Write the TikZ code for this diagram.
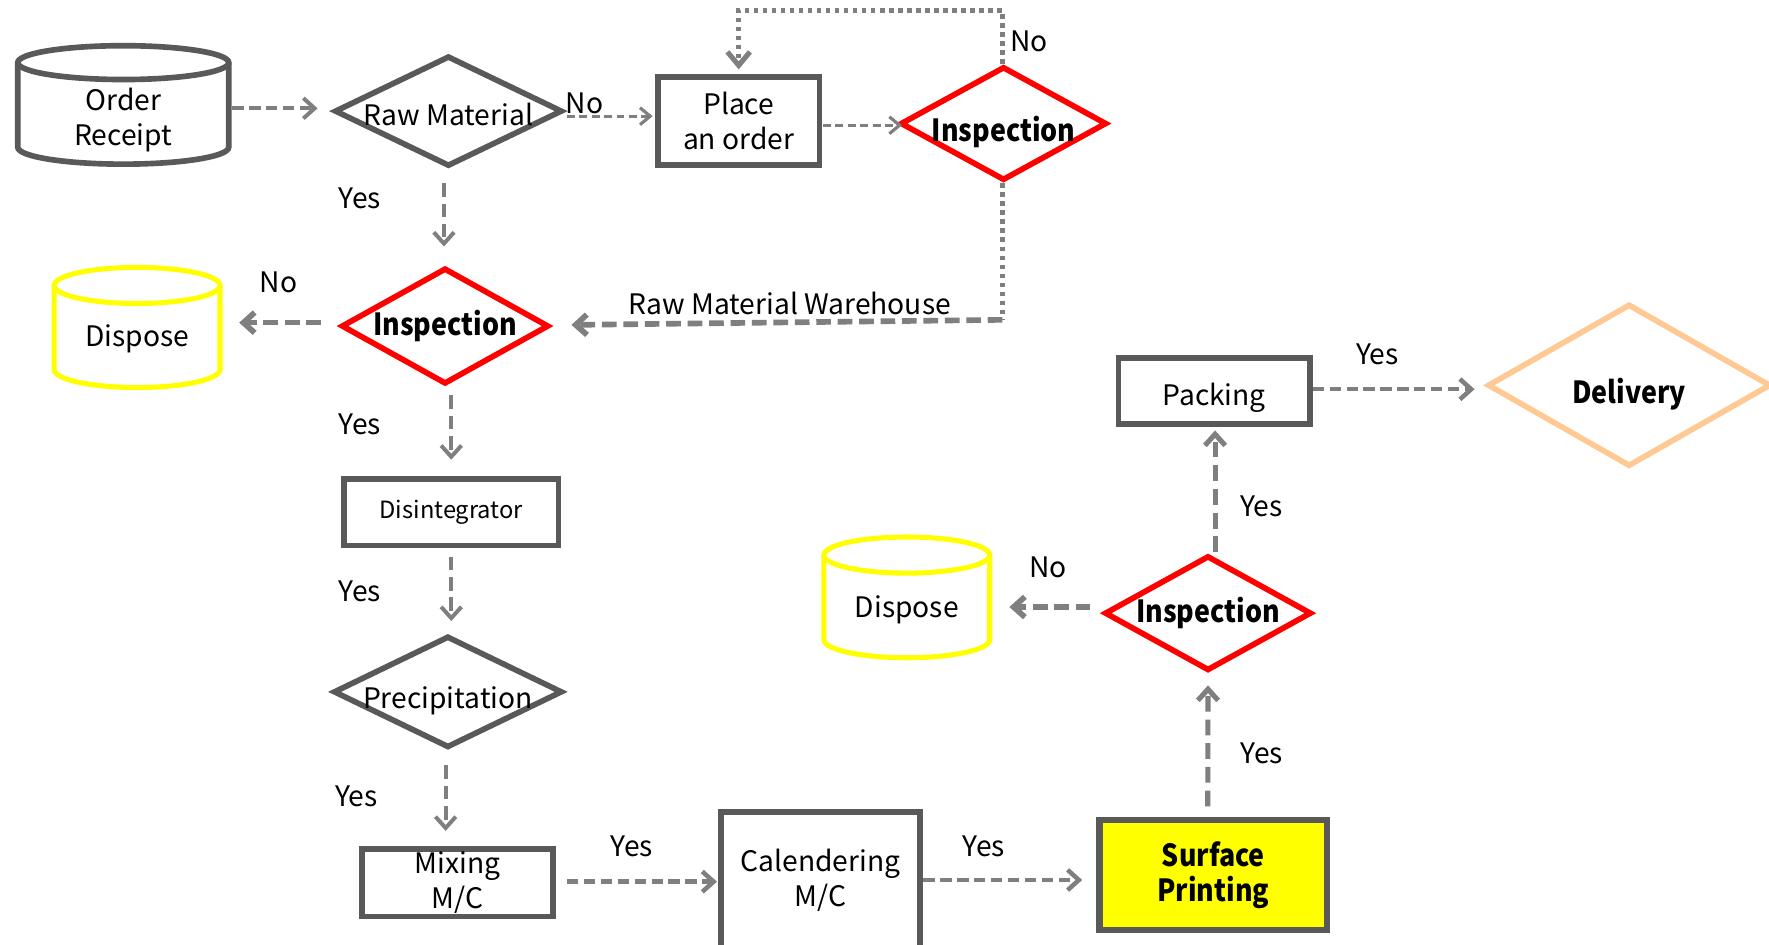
\documentclass[tikz,border=0pt]{standalone}
\usepackage{fontspec}
\setmainfont{Noto Sans CJK KR}
\newfontfamily\bfam{Noto Sans CJK KR}[FakeStretch=0.88]
\usetikzlibrary{arrows.meta,shapes.geometric}
\definecolor{boxgray}{HTML}{595959}
\definecolor{arrgray}{HTML}{7F7F7F}
\definecolor{peach}{HTML}{FFC994}
\definecolor{yel}{HTML}{FFFF00}
\definecolor{redc}{HTML}{FF0000}
\newcommand\nfont{\fontsize{25pt}{31pt}\selectfont}
\newcommand\bfont{\bfam\fontsize{27pt}{31pt}\selectfont\bfseries}
\newcommand\dfont{\fontsize{21pt}{25pt}\selectfont}
% #1 style, #2 cx, #3 top, #4 bottom, #5 half width, #6 ry
\newcommand\drumshape[6]{%
  \draw[#1] ({#2-#5},{#3+#6}) -- ({#2-#5},{#4-#6})
     arc[start angle=180,end angle=0,x radius=#5,y radius=#6] -- ({#2+#5},{#3+#6});
  \draw[#1] (#2,{#3+#6}) ellipse[x radius=#5, y radius=#6];
}
\tikzset{
  box/.style={draw=boxgray, line width=5pt, rectangle, inner sep=0pt, align=center, font=\nfont},
  dia/.style={diamond, line width=5pt, inner sep=0pt, aspect=2, align=center},
  txt/.style={inner sep=0pt, align=center, font=\nfont},
  lbl/.style={inner sep=0pt, font=\nfont},
  arr/.style={draw=arrgray, line width=3.5pt, dash pattern=on 10pt off 5pt,
              -{Straight Barb[length=10pt,width=18pt]}},
  thinarr/.style={arr, line width=2.8pt, dash pattern=on 7pt off 4pt,
              -{Straight Barb[length=9pt,width=15pt]}},
  varr/.style={arr, dash pattern=on 12pt off 6pt},
  fatarr/.style={arr, line width=5pt, dash pattern=on 13pt off 6pt},
  midarr/.style={arr, line width=4pt, dash pattern=on 10pt off 5pt},
  uparr/.style={arr, line width=4.5pt, dash pattern=on 14pt off 7pt},
  dotline/.style={draw=arrgray, line width=4.5pt, dash pattern=on 4pt off 4pt},
}
\begin{document}
\begin{tikzpicture}[x=1pt,y=-1pt]
\useasboundingbox (0,0) rectangle (1568,836.8);
\clip (0,0) rectangle (1568,836.8);
\fill[white] (0,0) rectangle (1568,836.8);

% cylinders
\drumshape{draw=boxgray,line width=5pt,fill=white}{109.25}{40.5}{145.5}{93.5}{15}
\drumshape{draw=yel,line width=4.5pt,fill=white}{121.5}{237}{343.5}{73.5}{16}
\drumshape{draw=yel,line width=4.5pt,fill=white}{803.75}{476}{583}{73.5}{16}
\node[txt, minimum width=191pt] (or) at (109.25,106) {Order\\Receipt};
\node[txt, minimum width=151pt] (d1) at (121.5,300) {Dispose};
\node[txt, minimum width=150.5pt] (d2) at (803.75,540.5) {Dispose};

% diamonds
\node[dia, draw=boxgray, minimum width=202pt, minimum height=98pt, font=\nfont,
      text height=25pt, text depth=0pt] (raw) at (397.5,98.5) {\makebox[0pt]{Raw Material}};
\node[dia, draw=redc, minimum width=183pt, minimum height=101pt, font=\bfont,
      text height=31pt, text depth=0pt] (ins1) at (889.5,109.5) {\makebox[0pt]{Inspection}};
\node[dia, draw=redc, minimum width=184pt, minimum height=103pt, font=\bfont] (ins2) at (394.5,289) {\makebox[0pt]{Inspection}};
\node[dia, draw=boxgray, minimum width=203pt, minimum height=99pt, font=\nfont,
      text height=29.5pt, text depth=0pt] (prec) at (397,613.25) {\makebox[0pt]{Precipitation}};
\node[dia, draw=redc, minimum width=183.5pt, minimum height=102pt, font=\bfont] (ins3) at (1070.75,543.5) {\makebox[0pt]{Inspection}};
\node[dia, draw=peach, minimum width=251pt, minimum height=144pt, font=\bfont,
      text height=32pt, text depth=0pt] (del) at (1444,341.5) {\makebox[0pt]{Delivery}};

% boxes
\node[box, minimum width=143.5pt, minimum height=77.5pt] (place) at (654.75,107.25) {Place\\an order};
\node[box, minimum width=190pt, minimum height=59pt, font=\dfont] (dis) at (400,454) {Disintegrator};
\node[box, minimum width=169pt, minimum height=60pt] (mix) at (405.5,782.5) {Mixing\\M/C};
\node[box, minimum width=176.5pt, minimum height=120pt] (cal) at (727.25,780) {Calendering\\M/C};
\node[box, line width=5.5pt, fill=yel, minimum width=202pt, minimum height=98pt, font=\bfont] (surf) at (1075.5,775.5) {Surface\\Printing};
\node[box, minimum width=169.5pt, minimum height=58.5pt, text height=25pt, text depth=0pt] (pack) at (1076.25,346.75) {Packing};

% connectors
\draw[arr] ([xshift=1pt,yshift=10pt]or.east) -- ([xshift=-12.5pt,yshift=2.5pt]raw.west);
\draw[thinarr] ([xshift=1.5pt,yshift=-4.5pt]raw.east) -- ([xshift=-2pt,yshift=4.25pt]place.west);
\draw[thinarr] ([xshift=0.5pt,yshift=-3.75pt]place.east) -- ([xshift=4pt,yshift=-1.5pt]ins1.west);
\draw[dotline, -{Straight Barb[length=12pt,width=20pt]}] ([xshift=-1pt]ins1.north) -- ++(0,-47.5) -| ([yshift=4.5pt]place.north);
\draw[dotline] ([xshift=-1pt]ins1.south) -- ++(0,121) coordinate (wh);
\draw[fatarr] (wh) -- ([xshift=17.5pt,yshift=1pt]ins2.east);
\draw[varr] ([xshift=-4pt,yshift=-12.5pt]raw.south) -- ([xshift=-1pt,yshift=16.5pt]ins2.north);
\draw[fatarr] ([xshift=-15.5pt,yshift=3pt]ins2.west) -- ([xshift=14.8pt,yshift=14pt]d1.east);
\draw[varr] ([xshift=5.5pt,yshift=-7.5pt]ins2.south) -- ([yshift=14.5pt]dis.north);
\draw[varr] ([yshift=-7.5pt]dis.south) -- ([xshift=3pt,yshift=10.75pt]prec.north);
\draw[varr] ([xshift=-2pt,yshift=-13.25pt]prec.south) -- ([xshift=-10.5pt,yshift=13.5pt]mix.north);
\draw[midarr] ([xshift=10pt,yshift=1pt]mix.east) -- ([xshift=-1pt,yshift=-1.5pt]cal.west);
\draw[midarr] ([xshift=0.5pt]cal.east) -- ([xshift=-12.5pt,yshift=-4.5pt]surf.west);
\draw[uparr] ([xshift=-5pt,yshift=9pt]surf.north) -- ([yshift=-10.5pt]ins3.south);
\draw[fatarr] ([xshift=-10pt,yshift=5.5pt]ins3.west) -- ([xshift=15.5pt,yshift=2.5pt]d2.east);
\draw[uparr] ([xshift=6.25pt,yshift=0.5pt]ins3.north) -- ([xshift=0.75pt,yshift=-3pt]pack.south);
\draw[midarr] ([yshift=1.75pt]pack.east) -- ([xshift=-9pt,yshift=-3.5pt]del.west);

% labels
\node[lbl] (l1) at (518,92) {No};
\node[lbl] (l2) at (912,37) {No};
\node[lbl] (l3) at (700,269) {Raw Material Warehouse};
\node[lbl] (l4) at (319,176) {Yes};
\node[lbl] (l5) at (247,250) {No};
\node[lbl] (l6) at (319,376.5) {Yes};
\node[lbl] (l7) at (319,524.5) {Yes};
\node[lbl] (l8) at (316,705.5) {Yes};
\node[lbl] (l9) at (560,750) {Yes};
\node[lbl] (l10) at (872,750) {Yes};
\node[lbl] (l11) at (1118.5,667.5) {Yes};
\node[lbl] (l12) at (929,502.5) {No};
\node[lbl] (l13) at (1118,449) {Yes};
\node[lbl] (l14) at (1221,314.5) {Yes};
\end{tikzpicture}
\end{document}
